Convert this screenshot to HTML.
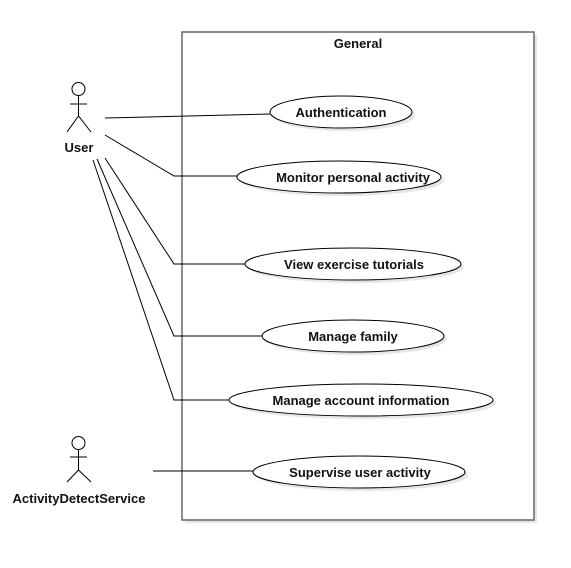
<!DOCTYPE html>
<html><head><meta charset="utf-8"><style>
html,body{margin:0;padding:0;background:#fff;width:571px;height:568px;overflow:hidden}
svg{display:block}
text{font-family:"Liberation Sans",Arial,sans-serif;font-size:13px;font-weight:bold;fill:#111}
</style></head><body>
<svg width="571" height="568" viewBox="0 0 571 568">
<rect x="185" y="35" width="352" height="488" fill="#e6e6e6"/>
<rect x="182" y="32" width="352" height="488" fill="#fff" stroke="#666" stroke-width="1.5"/>
<text x="358" y="48" text-anchor="middle">General</text>
<g fill="none" stroke="#000" stroke-width="1">
<path d="M105 118 L270 114"/>
<path d="M105 135 L174 176 L237 176"/>
<path d="M105 158 L174 264 L245 264"/>
<path d="M97 159 L174 336 L262 336"/>
<path d="M93 160 L174 400 L229 400"/>
<path d="M153 471 L253 471"/>
</g>
<g fill="#e6e6e6">
<ellipse cx="344" cy="115" rx="71" ry="16"/>
<ellipse cx="342" cy="180" rx="102" ry="16"/>
<ellipse cx="356" cy="267" rx="108" ry="16"/>
<ellipse cx="356" cy="339" rx="91" ry="16"/>
<ellipse cx="364" cy="403" rx="132" ry="16"/>
<ellipse cx="362" cy="475" rx="106" ry="16"/>
</g>
<g fill="#fff" stroke="#000" stroke-width="1">
<ellipse cx="341" cy="112" rx="71" ry="16"/>
<ellipse cx="339" cy="177" rx="102" ry="16"/>
<ellipse cx="353" cy="264" rx="108" ry="16"/>
<ellipse cx="353" cy="336" rx="91" ry="16"/>
<ellipse cx="361" cy="400" rx="132" ry="16"/>
<ellipse cx="359" cy="472" rx="106" ry="16"/>
</g>
<text x="341" y="117" text-anchor="middle">Authentication</text>
<text x="353" y="182" text-anchor="middle">Monitor personal activity</text>
<text x="354" y="269" text-anchor="middle">View exercise tutorials</text>
<text x="353" y="341" text-anchor="middle">Manage family</text>
<text x="361" y="405" text-anchor="middle">Manage account information</text>
<text x="360" y="477" text-anchor="middle">Supervise user activity</text>
<g fill="#fff" stroke="#000" stroke-width="1">
<circle cx="78.5" cy="89" r="6.5"/>
<path d="M78.5 95.5 V116 M70 104 H87 M67 132 L78.5 116 L91 132" fill="none"/>
<circle cx="78.5" cy="443" r="6.5"/>
<path d="M78.5 449.5 V470 M70 457 H87 M67 482 L78.5 470 L91 482" fill="none"/>
</g>
<text x="79" y="152" text-anchor="middle">User</text>
<text x="79" y="503" text-anchor="middle">ActivityDetectService</text>
</svg>
</body></html>
